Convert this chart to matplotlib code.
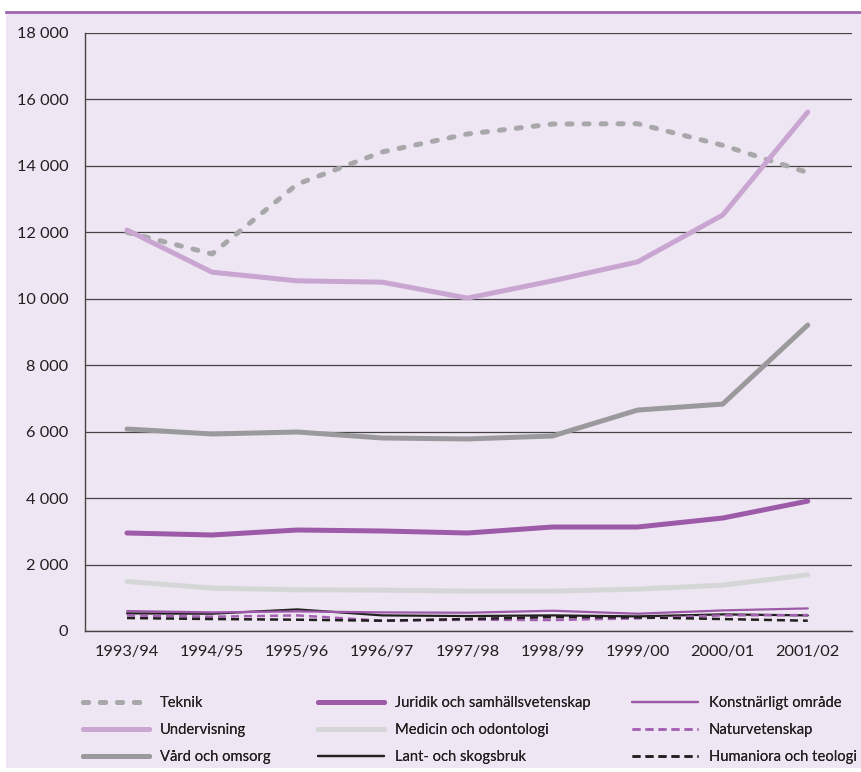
import matplotlib
matplotlib.use("Agg")
import matplotlib.pyplot as plt
from matplotlib.patches import Rectangle
from matplotlib.lines import Line2D
from matplotlib.ticker import FuncFormatter

plt.rcParams['font.family'] = ['Lato', 'DejaVu Sans']

years = ["1993/94", "1994/95", "1995/96", "1996/97", "1997/98",
         "1998/99", "1999/00", "2000/01", "2001/02"]

teknik = [12000, 11350, 13450, 14420, 14960, 15260, 15270, 14620, 13800]
undervisning = [12070, 10800, 10540, 10500, 10020, 10540, 11110, 12520, 15620]
vard = [6080, 5930, 5990, 5810, 5780, 5870, 6650, 6830, 9210]
juridik = [2950, 2890, 3040, 3010, 2950, 3130, 3130, 3400, 3910]
medicin = [1490, 1290, 1240, 1230, 1200, 1200, 1260, 1380, 1690]
konst = [600, 560, 590, 560, 550, 610, 520, 620, 680]
lant = [530, 520, 650, 470, 450, 470, 440, 500, 470]
natur = [470, 430, 470, 310, 340, 330, 380, 470, 480]
human = [390, 360, 340, 310, 360, 420, 410, 360, 310]

yticks = [0, 2000, 4000, 6000, 8000, 10000, 12000, 14000, 16000, 18000]

BG = "#EEE6F2"
W, H = 861, 772
fig = plt.figure(figsize=(W / 100, H / 100), dpi=100, facecolor="white")

# background panel and top purple rule
fig.patches.append(Rectangle((6 / W, 4 / H), 1 - 6 / W, (H - 12 - 4) / H,
                             transform=fig.transFigure, facecolor=BG,
                             edgecolor="none", zorder=-10))
fig.add_artist(Line2D([6 / W, 1], [1 - 12 / H, 1 - 12 / H],
                      transform=fig.transFigure, color="#A066AE", lw=2))

ax = fig.add_axes([85 / W, 1 - 631 / H, (852 - 85) / W, (631 - 33) / H])
ax.set_facecolor("none")
x = list(range(len(years)))

series = [
    ("Teknik", teknik, dict(color="#A8A8AA", lw=3.6, ls=(0, (1.0, 2.4)), dash_capstyle="round")),
    ("Undervisning", undervisning, dict(color="#C9A6D1", lw=3.6, ls="-")),
    ("Vård och omsorg", vard, dict(color="#9A9A9C", lw=3.6, ls="-")),
    ("Juridik och samhällsvetenskap", juridik, dict(color="#9C5AA8", lw=3.6, ls="-")),
    ("Medicin och odontologi", medicin, dict(color="#D5D7D7", lw=3.6, ls="-")),
    ("Lant- och skogsbruk", lant, dict(color="#231F20", lw=1.6, ls="-")),
    ("Konstnärligt område", konst, dict(color="#9C5AA8", lw=1.6, ls="-")),
    ("Naturvetenskap", natur, dict(color="#A460B2", lw=1.8, ls=(0, (3.2, 2)))),
    ("Humaniora och teologi", human, dict(color="#231F20", lw=1.8, ls=(0, (3.2, 2)))),
]

handles = {}
for name, vals, st in series:
    kw = dict(st)
    cap = kw.pop("dash_capstyle", "butt")
    ln, = ax.plot(x, vals, label=name, solid_capstyle="round",
                  dash_capstyle=cap, **kw)
    handles[name] = ln

ax.set_xlim(-0.494, 8.52)
ax.set_ylim(0, 18000)
ax.set_yticks(yticks)
ax.yaxis.set_major_formatter(FuncFormatter(lambda v, p: f"{int(v):,}".replace(",", " ")))
ax.set_xticks(x)
ax.set_xticklabels(years)
ax.tick_params(length=0, labelsize=11.8, colors="#231F20")
ax.tick_params(axis="x", pad=10)
ax.tick_params(axis="y", pad=12)
ax.grid(axis="y", color="#444444", lw=0.9)
ax.set_axisbelow(True)
for s in ["top", "right"]:
    ax.spines[s].set_visible(False)
for s in ["left", "bottom"]:
    ax.spines[s].set_color("#444444")
    ax.spines[s].set_linewidth(1.0)

columns = [
    (83, ["Teknik", "Undervisning", "Vård och omsorg"]),
    (318, ["Juridik och samhällsvetenskap", "Medicin och odontologi", "Lant- och skogsbruk"]),
    (632, ["Konstnärligt område", "Naturvetenskap", "Humaniora och teologi"]),
]
for xpx, names in columns:
    leg = fig.legend([handles[n] for n in names], names, ncol=1,
                     loc="upper left", bbox_to_anchor=(xpx / W, 1 - 696 / H),
                     frameon=False, fontsize=10.6, handlelength=4.5,
                     handletextpad=0.7, labelspacing=0.9, borderpad=0,
                     borderaxespad=0)
    for t in leg.get_texts():
        t.set_color("#231F20")
    fig.add_artist(leg)

plt.savefig("out.png", dpi=100, facecolor="white")
